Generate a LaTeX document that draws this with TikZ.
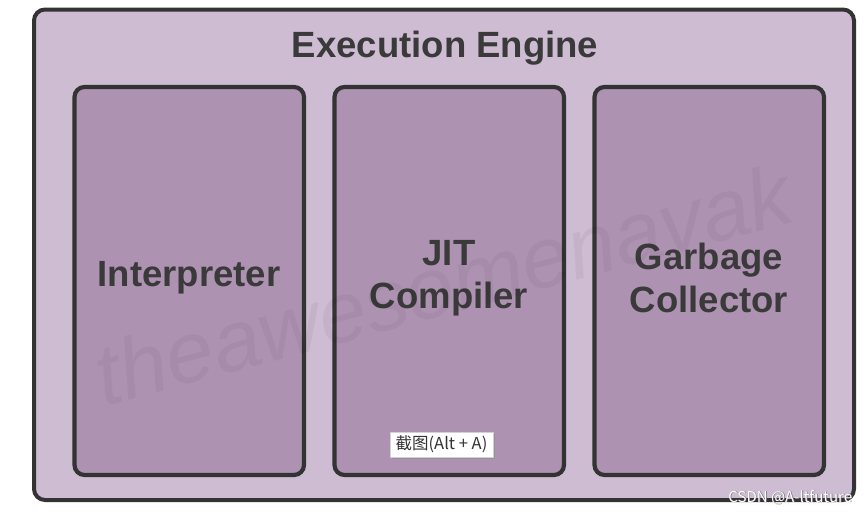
\documentclass[tikz,border=0pt]{standalone}
\usepackage{fontspec}
\setmainfont{Liberation Sans}
\newfontfamily\cjk{Noto Sans CJK SC}
\usetikzlibrary{shadows}
\definecolor{outerfill}{HTML}{CDBCD2}
\definecolor{innerfill}{HTML}{AE92B2}
\definecolor{edgec}{HTML}{333333}
\definecolor{textc}{HTML}{3A3A3A}
\tikzset{
  outerbox/.style={draw=edgec, fill=outerfill, line width=4pt, rounded corners=11pt},
  innerbox/.style={draw=edgec, fill=innerfill, line width=4.2pt, rounded corners=10pt},
  boxlabel/.style={text=textc, font=\fontsize{36.5}{43}\selectfont\bfseries, align=center},
  tipbox/.style={draw=black!18, fill=white, line width=0.6pt, drop shadow={shadow xshift=2pt, shadow yshift=-2pt, opacity=0.35}, inner sep=0pt, minimum width=103pt, minimum height=25pt, font=\cjk\fontsize{16.5}{18}\selectfont, text=edgec}
}
\begin{document}
\begin{tikzpicture}[x=1pt,y=-1pt]
\useasboundingbox (0,0) rectangle (868,514);
\fill[white] (0,0) rectangle (868,514);
\draw[outerbox] (34,9.5) rectangle (854,500);
\node[text=textc, font=\fontsize{36.5}{40}\selectfont\bfseries] (title) at (445,48) {Execution Engine};
\draw[innerbox] (74.5,87) rectangle (304,475);
\draw[innerbox] (334.5,87) rectangle (564,475);
\draw[innerbox] (594.5,87) rectangle (824,475);
\node[boxlabel] (interp) at (189,278) {Interpreter};
\node[boxlabel] (jit) at (449,278) {JIT\\Compiler};
\node[boxlabel] (gc) at (709,278) {Garbage\\Collector};
\node[rotate=15, text=black, opacity=0.045, font=\fontsize{86}{86}\selectfont\itshape] (wm) at (443,284) {theawesomenavak};
\node[tipbox] (tip) at (441.5,444.5) {截图(Alt + A)};
\node[text=black!55, font=\cjk\fontsize{15}{17}\selectfont] (csdnsh) at (791,498) {CSDN @A-ltfuture};
\node[text=white, font=\cjk\fontsize{15}{17}\selectfont] (csdn) at (790.3,497.3) {CSDN @A-ltfuture};
\end{tikzpicture}
\end{document}
